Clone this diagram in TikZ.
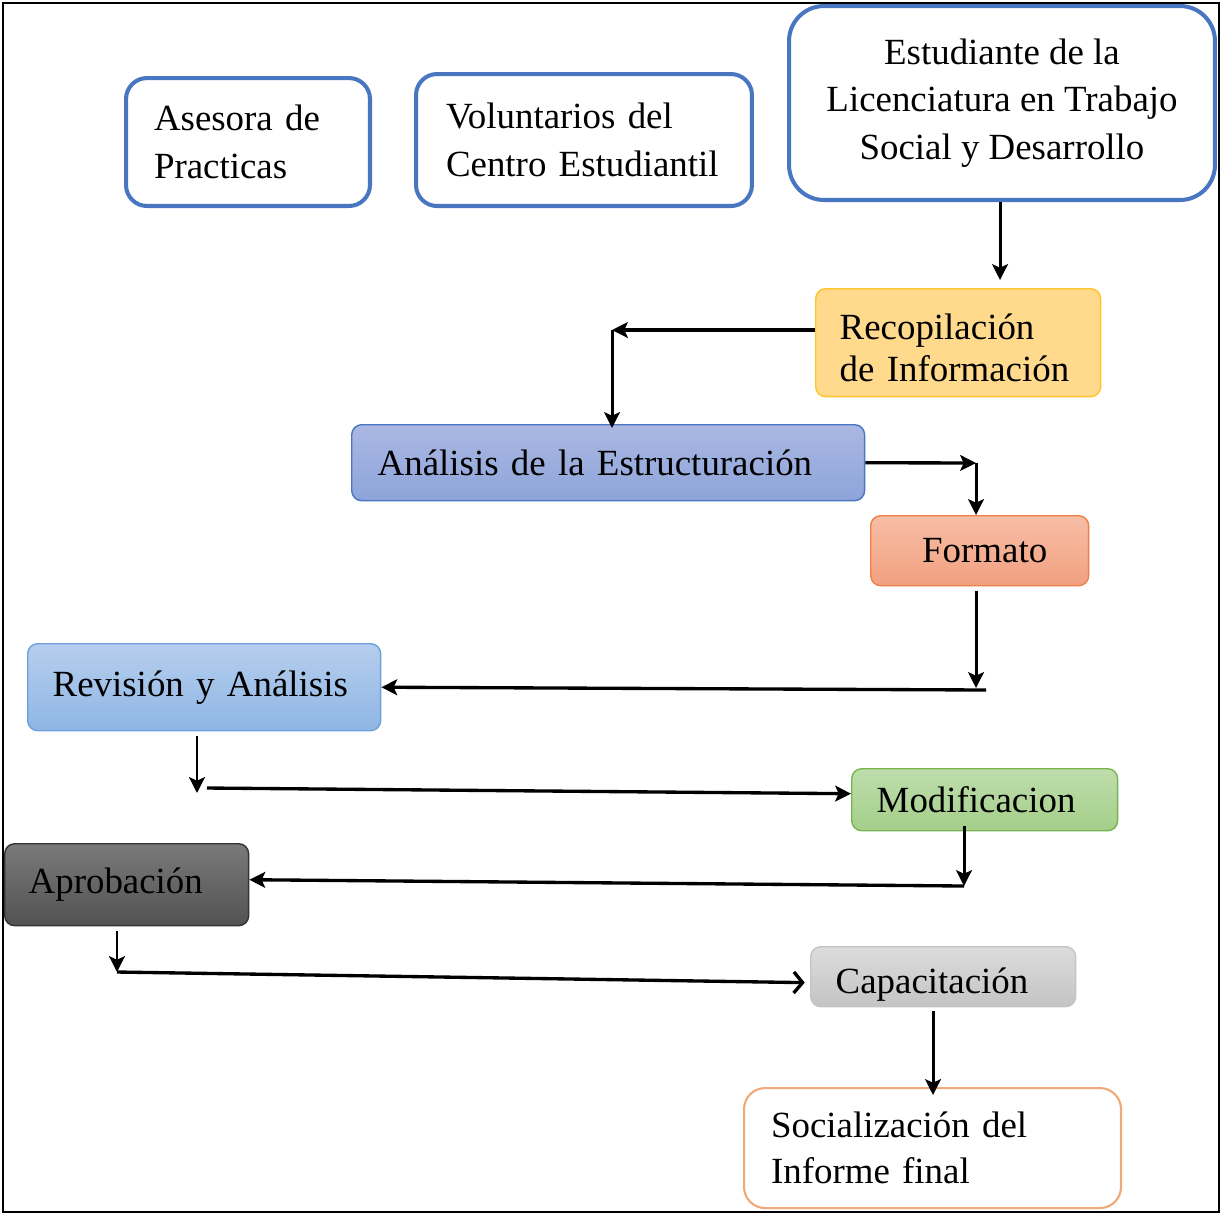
\documentclass[tikz,border=0pt]{standalone}
\usepackage{fontspec}
\setmainfont{Liberation Serif}
\usepackage{xcolor}
\usepackage{tikz}
\usetikzlibrary{positioning,arrows.meta}

\definecolor{bordeazul}{RGB}{72,118,192}
\definecolor{amarillo}{RGB}{255,217,140}
\definecolor{oro}{RGB}{255,196,40}
\definecolor{lilatop}{RGB}{170,184,226}
\definecolor{lilabot}{RGB}{142,164,218}
\definecolor{salmontop}{RGB}{247,190,166}
\definecolor{salmonbot}{RGB}{242,160,128}
\definecolor{naranja}{RGB}{236,128,70}
\definecolor{celestetop}{RGB}{182,206,238}
\definecolor{celestebot}{RGB}{142,182,228}
\definecolor{celeste}{RGB}{110,160,220}
\definecolor{verdetop}{RGB}{190,222,172}
\definecolor{verdebot}{RGB}{164,206,138}
\definecolor{verde}{RGB}{120,180,80}
\definecolor{grisosc}{RGB}{122,122,122}
\definecolor{grisosc2}{RGB}{82,82,82}
\definecolor{grisclaro}{RGB}{220,220,220}
\definecolor{grisclaro2}{RGB}{196,196,196}
\definecolor{durazno}{RGB}{242,168,120}

\begin{document}
\begin{tikzpicture}[x=0.02cm,y=-0.02cm,
    caja/.style={anchor=north west, inner ysep=0pt, align=left,
        font=\fontsize{21}{26}\selectfont},
    azul/.style={caja, draw=bordeazul, line width=2.3pt, rounded corners=0.42cm,
        font=\fontsize{21}{27}\selectfont},
    paso/.style={caja, line width=0.8pt, rounded corners=0.2cm},
    flecha/.style={-{Stealth[length=9pt,width=9pt,inset=2pt]}, line width=1.7pt},
    gruesa/.style={-{Stealth[length=9pt,width=9pt,inset=2pt]}, line width=1.9pt},
    abierta/.style={-{Straight Barb[length=5pt,width=12pt]}, line width=1.9pt}]
\useasboundingbox (0,0) rectangle (1222,1215);
% marco
\draw[line width=1.5pt] (3,3) rectangle (1219,1212);

% actores
\node[azul, minimum width=4.88cm, minimum height=2.56cm, text width=3.76cm, inner xsep=0.56cm]
    (asesora) at (124,76) {Asesora de\\Practicas};
\node[azul, minimum width=6.72cm, minimum height=2.64cm, text width=5.52cm, inner xsep=0.6cm]
    (volunt) at (414,72) {Voluntarios del\\Centro Estudiantil};
\node[azul, align=center, minimum width=8.52cm, minimum height=3.88cm, rounded corners=0.7cm]
    (estud) at (787,4) {Estudiante de la\\Licenciatura en Trabajo\\Social y Desarrollo};

% pasos
\node[paso, draw=oro, fill=amarillo, minimum width=5.7cm, minimum height=2.16cm,
    text width=4.74cm, inner xsep=0.48cm, font=\fontsize{21}{24}\selectfont] (recop) at (815,288)
    {\raisebox{-0.36cm}[0pt][0pt]{Recopilación}\\\raisebox{-0.36cm}[0pt][0pt]{de Información}};
\node[paso, draw=bordeazul, top color=lilatop, bottom color=lilabot, minimum width=10.26cm,
    minimum height=1.52cm, text width=9.22cm, inner xsep=0.52cm] (anali) at (351,424)
    {Análisis de la Estructuración};
\node[paso, draw=naranja, top color=salmontop, bottom color=salmonbot, align=center,
    minimum width=4.36cm, minimum height=1.4cm] (format) at (870,515) {\hspace{0.2cm}Formato};
\node[paso, draw=celeste, top color=celestetop, bottom color=celestebot, minimum width=7.06cm,
    minimum height=1.74cm, text width=6.06cm, inner xsep=0.5cm] (revis) at (27,643)
    {Revisión y Análisis};
\node[paso, draw=verde, top color=verdetop, bottom color=verdebot, minimum width=5.32cm,
    minimum height=1.24cm, text width=4.32cm, inner xsep=0.5cm] (modif) at (851,768)
    {Modificacion};
\node[paso, draw=black!80, top color=grisosc, bottom color=grisosc2, minimum width=4.88cm,
    minimum height=1.64cm, text width=3.92cm, inner xsep=0.48cm] (aprob) at (4,843)
    {Aprobación};
\node[paso, draw=grisclaro2, top color=grisclaro, bottom color=grisclaro2, minimum width=5.3cm,
    minimum height=1.2cm, text width=4.3cm, inner xsep=0.5cm] (capac) at (810,946)
    {\raisebox{-0.34cm}[0pt][0pt]{Capacitación}};
\node[paso, draw=durazno, line width=1.2pt, rounded corners=0.42cm, fill=white,
    minimum width=7.54cm, minimum height=2.4cm, text width=6.46cm, inner xsep=0.54cm]
    (social) at (743,1087) {Socialización del\\Informe final};

% quiebres
\coordinate (k1) at (1000,280);
\coordinate (k2) at (612,330);
\coordinate (k3) at (976,463);
\coordinate (k4) at (976,688);
\coordinate (k4b) at (986,690);
\coordinate (k5) at (197,793);
\coordinate (k5b) at (207,788);
\coordinate (k6) at (964,886);
\coordinate (k7) at (117,972);
\coordinate (k8) at (933,1095);

% conectores
\draw[flecha] (estud.south -| k1) -- (k1);
\draw[gruesa] (recop.west |- k2) -- (k2);
\draw[flecha] (k2) -- ([yshift=-4*0.02cm]anali.north -| k2);
\draw[gruesa] (anali.east) -- (k3);
\draw[flecha] (k3) -- (k3 |- format.north);
\draw[flecha] ([yshift=-5*0.02cm]format.south -| k4) -- (k4);
\draw[gruesa] (k4b) -- (revis.east);
\draw[flecha] ([yshift=-5*0.02cm]revis.south -| k5) -- (k5);
\draw[gruesa] (k5b) -- ([yshift=6*0.02cm]modif.west);
\draw[flecha] ([yshift=5*0.02cm]modif.south -| k6) -- (k6);
\draw[gruesa] (k6) -- ([yshift=5*0.02cm]aprob.east);
\draw[flecha] ([yshift=-5*0.02cm]aprob.south -| k7) -- (k7);
\draw[abierta, shorten >=3pt] (k7) -- ([yshift=-6*0.02cm]capac.west);
\draw[flecha] ([yshift=-4*0.02cm]capac.south -| k8) -- (k8);
\end{tikzpicture}
\end{document}
